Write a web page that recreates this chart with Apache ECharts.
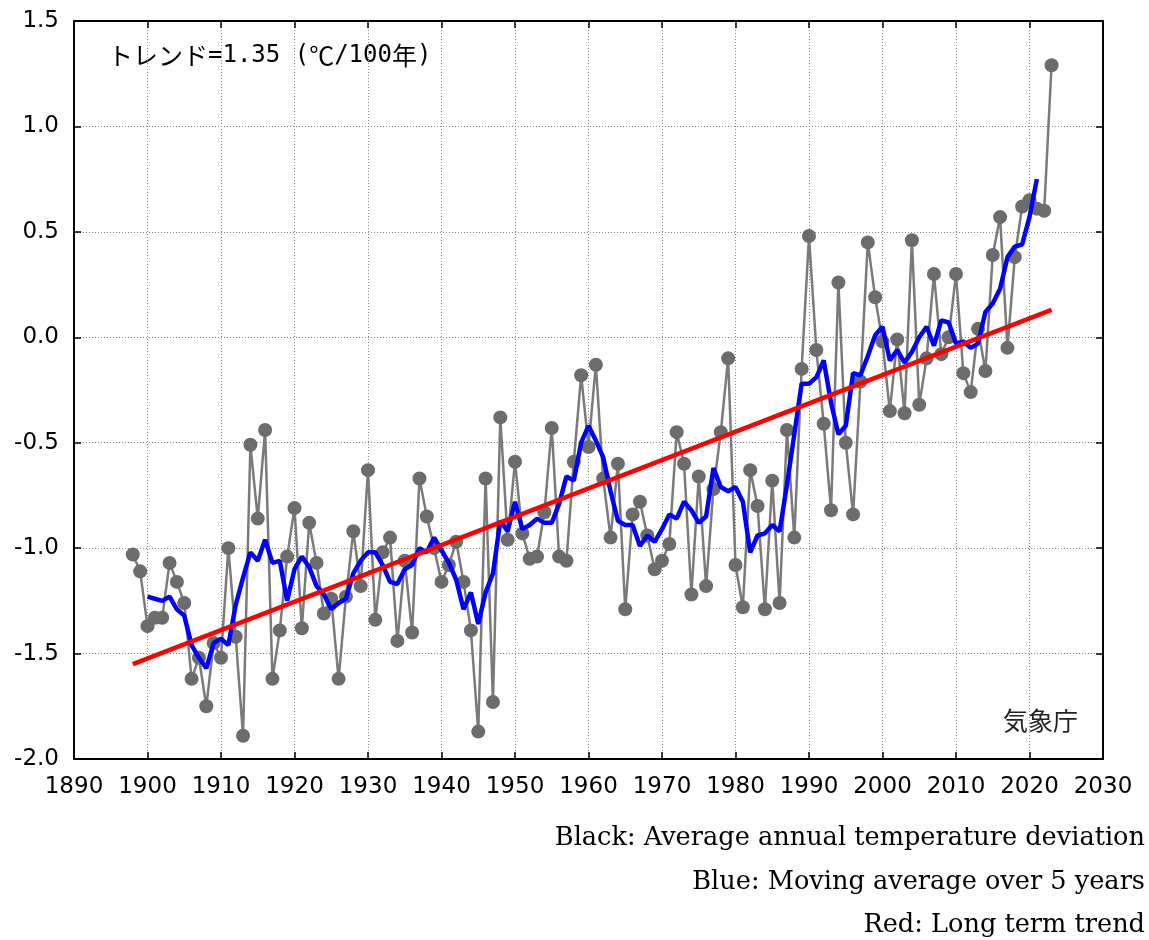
<!DOCTYPE html>
<html>
<head>
<meta charset="utf-8">
<script src="https://cdn.jsdelivr.net/npm/echarts@6/dist/echarts.min.js"></script>
<style>
html,body{margin:0;padding:0;background:#fff;}
#chart{width:1149px;height:940px;}
</style>
</head>
<body>
<div id="chart"></div>
<script>
// Years of the annual series
const years = [
1898,1899,1900,1901,1902,1903,1904,1905,1906,1907,1908,1909,
1910,1911,1912,1913,1914,1915,1916,1917,1918,1919,
1920,1921,1922,1923,1924,1925,1926,1927,1928,1929,
1930,1931,1932,1933,1934,1935,1936,1937,1938,1939,
1940,1941,1942,1943,1944,1945,1946,1947,1948,1949,
1950,1951,1952,1953,1954,1955,1956,1957,1958,1959,
1960,1961,1962,1963,1964,1965,1966,1967,1968,1969,
1970,1971,1972,1973,1974,1975,1976,1977,1978,1979,
1980,1981,1982,1983,1984,1985,1986,1987,1988,1989,
1990,1991,1992,1993,1994,1995,1996,1997,1998,1999,
2000,2001,2002,2003,2004,2005,2006,2007,2008,2009,
2010,2011,2012,2013,2014,2015,2016,2017,2018,2019,
2020,2021,2022,2023];

// Black: annual temperature deviation (°C)
const annual = [
-1.03,-1.11,-1.37,-1.33,-1.33,-1.07,-1.16,-1.26,-1.62,-1.52,-1.75,-1.45,
-1.52,-1.00,-1.42,-1.89,-0.51,-0.86,-0.44,-1.62,-1.39,-1.04,
-0.81,-1.38,-0.88,-1.07,-1.31,-1.24,-1.62,-1.23,-0.92,-1.18,
-0.63,-1.34,-1.02,-0.95,-1.44,-1.06,-1.40,-0.67,-0.85,-1.00,
-1.16,-1.08,-0.97,-1.16,-1.39,-1.87,-0.67,-1.73,-0.38,-0.96,
-0.59,-0.93,-1.05,-1.04,-0.83,-0.43,-1.04,-1.06,-0.59,-0.18,
-0.52,-0.13,-0.67,-0.95,-0.60,-1.29,-0.84,-0.78,-0.94,-1.10,
-1.06,-0.98,-0.45,-0.60,-1.22,-0.66,-1.18,-0.72,-0.45,-0.10,
-1.08,-1.28,-0.63,-0.80,-1.29,-0.68,-1.26,-0.44,-0.95,-0.15,
0.48,-0.06,-0.41,-0.82,0.26,-0.50,-0.84,-0.21,0.45,0.19,
-0.02,-0.35,-0.01,-0.36,0.46,-0.32,-0.10,0.30,-0.08,0.00,
0.30,-0.17,-0.26,0.04,-0.16,0.39,0.57,-0.05,0.38,0.62,
0.65,0.61,0.60,1.29];

// Blue: 5-year moving average, 1900..2021
const maYears = [
1900,1901,1902,1903,1904,1905,1906,1907,1908,1909,
1910,1911,1912,1913,1914,1915,1916,1917,1918,1919,
1920,1921,1922,1923,1924,1925,1926,1927,1928,1929,
1930,1931,1932,1933,1934,1935,1936,1937,1938,1939,
1940,1941,1942,1943,1944,1945,1946,1947,1948,1949,
1950,1951,1952,1953,1954,1955,1956,1957,1958,1959,
1960,1961,1962,1963,1964,1965,1966,1967,1968,1969,
1970,1971,1972,1973,1974,1975,1976,1977,1978,1979,
1980,1981,1982,1983,1984,1985,1986,1987,1988,1989,
1990,1991,1992,1993,1994,1995,1996,1997,1998,1999,
2000,2001,2002,2003,2004,2005,2006,2007,2008,2009,
2010,2011,2012,2013,2014,2015,2016,2017,2018,2019,
2020,2021];
const movingAvg = [
-1.23,-1.24,-1.25,-1.23,-1.29,-1.32,-1.46,-1.52,-1.57,-1.45,
-1.43,-1.46,-1.27,-1.14,-1.02,-1.06,-0.96,-1.07,-1.06,-1.25,
-1.10,-1.04,-1.09,-1.18,-1.22,-1.29,-1.26,-1.24,-1.12,-1.06,
-1.02,-1.02,-1.08,-1.16,-1.17,-1.10,-1.08,-1.00,-1.02,-0.95,
-1.01,-1.07,-1.15,-1.29,-1.21,-1.36,-1.21,-1.12,-0.87,-0.92,
-0.78,-0.91,-0.89,-0.86,-0.88,-0.88,-0.79,-0.66,-0.68,-0.50,
-0.42,-0.49,-0.57,-0.73,-0.87,-0.89,-0.89,-0.99,-0.94,-0.97,
-0.91,-0.84,-0.86,-0.78,-0.82,-0.88,-0.85,-0.62,-0.71,-0.73,
-0.71,-0.78,-1.02,-0.94,-0.93,-0.89,-0.92,-0.70,-0.46,-0.22,
-0.22,-0.19,-0.11,-0.31,-0.46,-0.42,-0.17,-0.18,-0.09,0.01,
0.05,-0.11,-0.06,-0.12,-0.07,0.00,0.05,-0.04,0.08,0.07,
-0.03,-0.02,-0.05,-0.03,0.12,0.16,0.23,0.38,0.43,0.44,
0.57,0.75];

// Red: long-term trend (1.35 °C / 100 years)
const trendYears = [1898, 2023];
const trendValues = [-1.55, 0.13];

// Axis ticks
const xTicks = [1890,1900,1910,1920,1930,1940,1950,1960,1970,1980,1990,2000,2010,2020,2030];
const yTicks = [-2.0,-1.5,-1.0,-0.5,0.0,0.5,1.0,1.5];

const trendKana = 'トレンド';
const trendAscii1 = '=1.35 (';
const trendDeg = '℃';
const trendAscii2 = '/100';
const trendYear = '年';
const trendAscii3 = ')';
const sourceLabel = '気象庁';
const notes = [
  'Black: Average annual temperature deviation',
  'Blue: Moving average over 5 years',
  'Red: Long term trend'
];

const chart = echarts.init(document.getElementById('chart'), null, {renderer:'canvas'});

const axisFont = 'DejaVu Sans, sans-serif';
const xMin = xTicks[0], xMax = xTicks[xTicks.length-1];
const yMin = yTicks[0], yMax = yTicks[yTicks.length-1];

function xAxisCfg(pos, labels) {
  return {
    type:'value', position:pos, min:xMin, max:xMax, interval:10,
    axisLine:{show:true, onZero:false, lineStyle:{color:'#000', width:2}},
    axisTick:{show:true, inside:true, length:7, lineStyle:{color:'#000', width:1.5}},
    axisLabel:{show:labels, fontSize:23, color:'#000', fontFamily:axisFont, margin:17,
      formatter:(v)=>String(v)},
    splitLine:{show:labels, lineStyle:{color:'#8a8a8a', width:1, type:[1,2]}}
  };
}
function yAxisCfg(pos, labels) {
  return {
    type:'value', position:pos, min:yMin, max:yMax, interval:0.5,
    axisLine:{show:true, onZero:false, lineStyle:{color:'#000', width:2}},
    axisTick:{show:true, inside:true, length:7, lineStyle:{color:'#000', width:1.5}},
    axisLabel:{show:labels, fontSize:23, color:'#000', fontFamily:axisFont, margin:15,
      formatter:(v)=>v.toFixed(1)},
    splitLine:{show:labels, lineStyle:{color:'#8a8a8a', width:1, type:[1,2]}}
  };
}

const cjk = {fontFamily:'Noto Sans CJK JP', fontSize:25, fill:'#000'};
const mono = {fontFamily:'DejaVu Sans Mono', fontSize:24, fill:'#000'};

const option = {
  animation:false,
  backgroundColor:'#fff',
  grid:{left:74, top:21, width:1029, height:738, containLabel:false},
  xAxis:[xAxisCfg('bottom', true), xAxisCfg('top', false)],
  yAxis:[yAxisCfg('left', true), yAxisCfg('right', false)],
  series:[
    {
      type:'line', name:'annual', xAxisIndex:0, yAxisIndex:0,
      data: years.map((y,i)=>[y, annual[i]]),
      symbol:'circle', symbolSize:14, showSymbol:true,
      itemStyle:{color:'#6c6c6c'},
      lineStyle:{color:'#7a7a7a', width:2.5},
      z:2
    },
    {
      type:'line', name:'ma5', xAxisIndex:0, yAxisIndex:0,
      data: maYears.map((y,i)=>[y, movingAvg[i]]),
      showSymbol:false, symbol:'none',
      lineStyle:{color:'#0000ff', width:4.5},
      z:3
    },
    {
      type:'line', name:'trend', xAxisIndex:0, yAxisIndex:0,
      data: trendYears.map((y,i)=>[y, trendValues[i]]),
      showSymbol:false, symbol:'none',
      lineStyle:{color:'#ff0000', width:4.5},
      z:4
    }
  ],
  graphic:[
    {type:'text', left:108, top:43, style:{
      text:'{k|'+trendKana+'}{a|'+trendAscii1+'}{k|'+trendDeg+'}{a|'+trendAscii2+'}{k|'+trendYear+'}{a|'+trendAscii3+'}',
      rich:{k:cjk, a:mono}}},
    {type:'text', left:1003, top:708, style:{text:sourceLabel, fontSize:25, fill:'#222',
      fontFamily:'Noto Sans CJK JP'}},
    {type:'text', x:1145, y:838, style:{text:notes[0], fontSize:25.6, fill:'#000',
      fontFamily:'DejaVu Serif', textAlign:'right', textVerticalAlign:'middle'}},
    {type:'text', x:1145, y:882, style:{text:notes[1], fontSize:25.6, fill:'#000',
      fontFamily:'DejaVu Serif', textAlign:'right', textVerticalAlign:'middle'}},
    {type:'text', x:1145, y:925, style:{text:notes[2], fontSize:25.6, fill:'#000',
      fontFamily:'DejaVu Serif', textAlign:'right', textVerticalAlign:'middle'}}
  ]
};
chart.setOption(option);
</script>
</body>
</html>
